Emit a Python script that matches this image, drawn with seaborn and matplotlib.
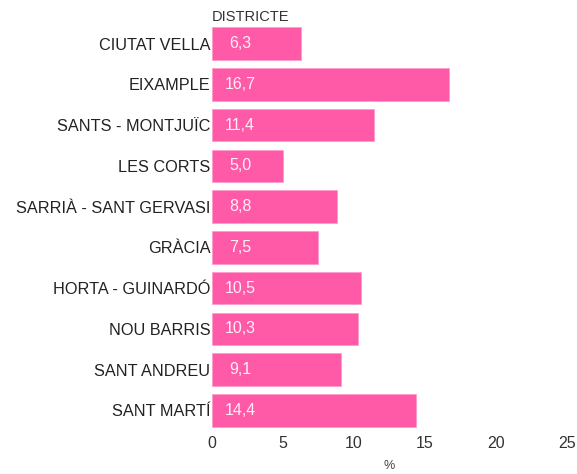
import matplotlib
matplotlib.use("Agg")
import matplotlib.pyplot as plt
import seaborn as sns
import pandas as pd

districtes = ["CIUTAT VELLA", "EIXAMPLE", "SANTS - MONTJUÏC", "LES CORTS",
              "SARRIÀ - SANT GERVASI", "GRÀCIA", "HORTA - GUINARDÓ",
              "NOU BARRIS", "SANT ANDREU", "SANT MARTÍ"]
valors = [6.3, 16.7, 11.4, 5.0, 8.8, 7.5, 10.5, 10.3, 9.1, 14.4]

df = pd.DataFrame({"DISTRICTE": districtes, "pct": valors})

sns.set_style("white")
plt.rcParams["font.family"] = ["Liberation Sans", "DejaVu Sans"]

fig = plt.figure(figsize=(5.77, 4.74), dpi=100)
ax = fig.add_axes([0.367, 0.091, 0.616, 0.86])

sns.barplot(data=df, x="pct", y="DISTRICTE", color="#FF5AA8", saturation=1,
            width=0.8, edgecolor="#FF9CCB", linewidth=0.6, ax=ax)

for i, v in enumerate(valors):
    ax.text(2.0, i, f"{v:.1f}".replace(".", ","), color="white", alpha=0.9,
            fontsize=11.5, ha="center", va="center")

ax.set_xlim(0, 25)
ax.set_ylim(9.5, -0.5)
ax.set_xticks([0, 5, 10, 15, 20, 25])
ax.tick_params(axis="y", length=0, labelsize=11.7, labelcolor="#222222", pad=1)
ax.tick_params(axis="x", length=0, labelsize=11.5, labelcolor="#333333", pad=4)
ax.set_xlabel("%", fontsize=9, color="#444444", labelpad=6)
ax.set_ylabel("")
for s in ax.spines.values():
    s.set_visible(False)
ax.text(0, -0.48, "DISTRICTE", fontsize=10.5, color="#333333", ha="left", va="bottom",
        clip_on=False)

fig.savefig("out.png", dpi=100)
